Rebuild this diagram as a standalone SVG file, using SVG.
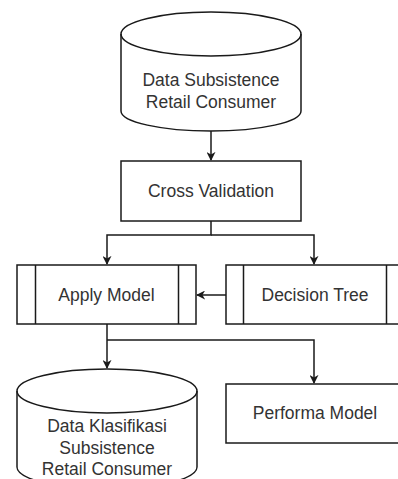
<svg xmlns="http://www.w3.org/2000/svg" width="398" height="479" viewBox="0 0 398 479">
<defs>
<style>
.s{fill:#fff;stroke:#1a1a1a;stroke-width:1.5}
.l{fill:none;stroke:#1a1a1a;stroke-width:1.5}
.t{font-family:"Liberation Sans",Arial,sans-serif;font-size:17.5px;fill:#333;text-anchor:middle;dominant-baseline:central}
</style>
<marker id="ah" viewBox="0 0 10 10" refX="9" refY="5" markerWidth="9" markerHeight="9" orient="auto" markerUnits="userSpaceOnUse">
<path d="M0,0 L10,5 L0,10 L3,5 Z" fill="#1a1a1a"/>
</marker>
</defs>
<rect width="398" height="479" fill="#fff"/>
<g id="connectors">
<path class="l" d="M211,131 V160" marker-end="url(#ah)"/>
<path class="l" d="M211,221 V235 H107 V264" marker-end="url(#ah)"/>
<path class="l" d="M211,235 H314 V264" marker-end="url(#ah)"/>
<path class="l" d="M226,295 H197" marker-end="url(#ah)"/>
<path class="l" d="M107,324 V340 V368" marker-end="url(#ah)"/>
<path class="l" d="M107,340 H314 V383" marker-end="url(#ah)"/>
</g>
<g id="data-subsistence">
<path class="s" d="M121,34 A90,22 0 0 1 301,34 V111 A90,20 0 0 1 121,111 Z"/>
<path class="l" d="M121,34 A90,22 0 0 0 301,34"/>
<text class="t" x="211" y="80">Data Subsistence</text>
<text class="t" x="211" y="102">Retail Consumer</text>
</g>
<g id="cross-validation">
<rect class="s" x="121" y="161" width="180" height="60"/>
<text class="t" x="211" y="191">Cross Validation</text>
</g>
<g id="apply-model">
<rect class="s" x="17" y="265" width="179" height="59"/>
<path class="l" d="M35.5,265 V324 M178.5,265 V324"/>
<text class="t" x="106.5" y="294.5">Apply Model</text>
</g>
<g id="decision-tree">
<rect class="s" x="226" y="265" width="179" height="59"/>
<path class="l" d="M243.5,265 V324 M386.5,265 V324"/>
<text class="t" x="315" y="294.5">Decision Tree</text>
</g>
<g id="data-klasifikasi">
<path class="s" d="M17,391 A90,22 0 0 1 197,391 V467 A90,22 0 0 1 17,467 Z"/>
<path class="l" d="M17,391 A90,22 0 0 0 197,391"/>
<text class="t" x="107" y="426">Data Klasifikasi</text>
<text class="t" x="107" y="448">Subsistence</text>
<text class="t" x="107" y="469">Retail Consumer</text>
</g>
<g id="performa-model">
<rect class="s" x="226" y="384" width="179" height="59"/>
<text class="t" x="315" y="413">Performa Model</text>
</g>
</svg>
